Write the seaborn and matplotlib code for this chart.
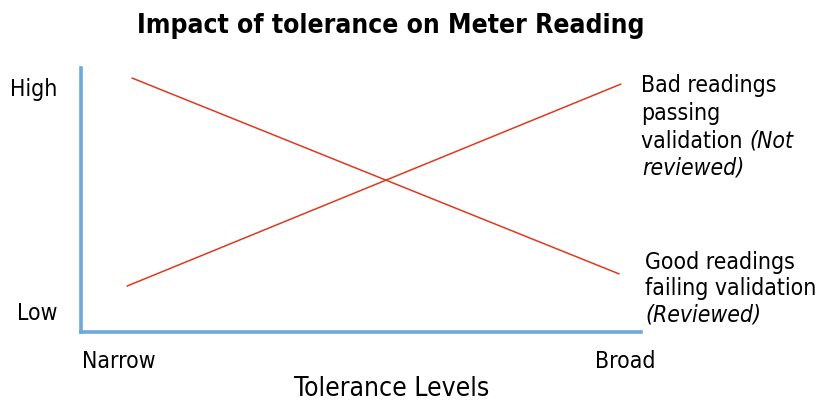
import matplotlib
matplotlib.use("Agg")
import matplotlib.pyplot as plt
import seaborn as sns
import pandas as pd

# values (axis units 0-10)
tol_good = [0.92, 9.61]
good_fail = [9.62, 2.20]
tol_bad = [0.83, 9.64]
bad_pass = [1.74, 9.39]

x_ticks = [0.68, 9.72]
x_labels = ["Narrow", "Broad"]
y_ticks = [0.80, 9.28]
y_labels = ["Low", "High"]

sns.set_theme(style="white")
plt.rcParams["font.family"] = ["DejaVu Sans"]
plt.rcParams["font.stretch"] = "condensed"
plt.rcParams["text.color"] = "black"
plt.rcParams["xtick.color"] = "black"
plt.rcParams["ytick.color"] = "black"

BLUE = "#6FA8DC"
RED = "#DD3A1F"
W, H = 819, 403

fig = plt.figure(figsize=(W / 100, H / 100), dpi=100)
ax = fig.add_axes([80.5 / W, (H - 332) / H, (641 - 80.5) / W, (332 - 68) / H])

df = pd.concat([
    pd.DataFrame({"tol": tol_good, "val": good_fail, "series": "good"}),
    pd.DataFrame({"tol": tol_bad, "val": bad_pass, "series": "bad"}),
])
sns.lineplot(data=df, x="tol", y="val", units="series", estimator=None,
             color=RED, linewidth=1.1, ax=ax)

ax.set_xlim(0, 10)
ax.set_ylim(0, 10)
for s in ["top", "right"]:
    ax.spines[s].set_visible(False)
for s in ["left", "bottom"]:
    ax.spines[s].set_color(BLUE)
    ax.spines[s].set_linewidth(2.6)
    ax.spines[s].set_capstyle("projecting")

ax.set_xticks(x_ticks)
ax.set_xticklabels(x_labels, fontsize=16.5)
ax.set_yticks(y_ticks)
ax.set_yticklabels(y_labels, fontsize=16.5)
ax.tick_params(axis="x", length=0, pad=13)
ax.tick_params(axis="y", length=0, pad=16.5)
ax.set_xlabel("")
ax.set_ylabel("")

fig.text(390.5 / W, 1 - 33 / H, "Impact of tolerance on Meter Reading",
         ha="center", va="baseline", fontsize=19, fontweight="bold")
fig.text(391.5 / W, 1 - 396 / H, "Tolerance Levels",
         ha="center", va="baseline", fontsize=19)


def put(x, y, s, italic=False):
    return fig.text(x / W, 1 - y / H, s, ha="left", va="baseline", fontsize=16.5,
                    fontstyle="italic" if italic else "normal")


put(641, 92, "Bad readings")
put(641, 120, "passing")
t = put(641, 148, "validation ")
fig.canvas.draw()
bb = t.get_window_extent()
put(bb.x1, 148, "(Not", italic=True)
put(642, 174, "reviewed)", italic=True)

put(645, 269, "Good readings")
put(645, 295, "failing validation")
put(645, 321, "(Reviewed)", italic=True)

fig.savefig("out.png", dpi=100)
